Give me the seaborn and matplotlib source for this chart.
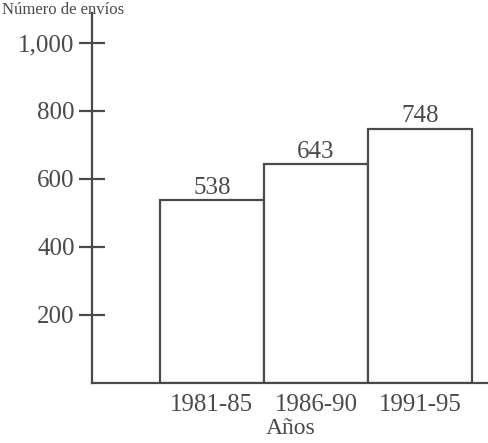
import matplotlib
matplotlib.use("Agg")
import matplotlib.pyplot as plt
import seaborn as sns
import pandas as pd

# data
periods = ["1981-85", "1986-90", "1991-95"]
envios = [538, 643, 748]
y_ticks = [200, 400, 600, 800, 1000]
y_tick_labels = ["200", "400", "600", "800", "1,000"]

ink = "#4a4a4a"

sns.set_theme(style="ticks")
plt.rcParams["font.family"] = ["Liberation Serif", "DejaVu Serif"]

df = pd.DataFrame({"Años": periods, "Envíos": envios})

fig = plt.figure(figsize=(4.89, 4.43), dpi=100)
ax = fig.add_axes([0.188, 0.1354, 0.812, 0.8353])

sns.barplot(data=df, x="Años", y="Envíos", ax=ax, width=1.0,
            color="white", edgecolor=ink, linewidth=1.6, saturation=1)

ax.set_xlim(-1.15, 2.66)
ax.set_ylim(0, 1088)

ax.set_yticks(y_ticks)
ax.set_yticklabels(y_tick_labels)
ax.tick_params(axis="y", direction="inout", length=19, width=1.6,
               color=ink, labelcolor=ink, labelsize=18, pad=3)
ax.tick_params(axis="x", length=0, labelcolor=ink, labelsize=18, pad=8)

for side in ["top", "right"]:
    ax.spines[side].set_visible(False)
for side in ["left", "bottom"]:
    ax.spines[side].set_color(ink)
    ax.spines[side].set_linewidth(1.6)

ax.set_ylabel("")
ax.set_xlabel("Años", color=ink, fontsize=17, labelpad=1)

for c in ax.containers:
    ax.bar_label(c, labels=[str(v) for v in envios], color=ink, fontsize=18, padding=1)

# axis title, cut at the top edge of the scan; kept small and inside the figure here
fig.text(0.004, 0.968, "Número de envíos", color=ink, fontsize=12, va="baseline")

fig.savefig("out.png", dpi=100, facecolor="white")
